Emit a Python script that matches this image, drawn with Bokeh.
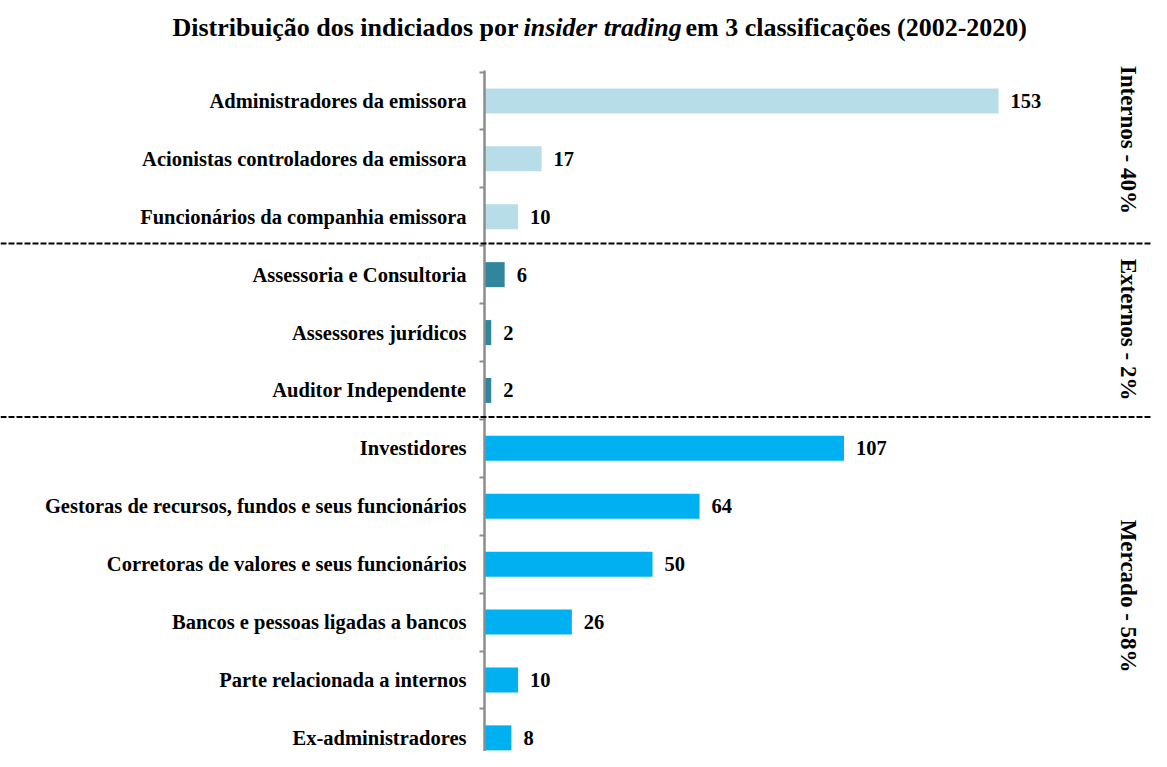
import math
from bokeh.plotting import figure
from bokeh.models import Range1d, LinearAxis, FixedTicker, Span, Label, ColumnDataSource
from bokeh.core.properties import value
from bokeh.embed import file_html
from bokeh.resources import INLINE

# ---------------- data ----------------
categories = [
    "Administradores da emissora",
    "Acionistas controladores da emissora",
    "Funcionários da companhia emissora",
    "Assessoria e Consultoria",
    "Assessores jurídicos",
    "Auditor Independente",
    "Investidores",
    "Gestoras de recursos, fundos e seus funcionários",
    "Corretoras de valores e seus funcionários",
    "Bancos e pessoas ligadas a bancos",
    "Parte relacionada a internos",
    "Ex-administradores",
]
counts = [153, 17, 10, 6, 2, 2, 107, 64, 50, 26, 10, 8]
groups = ["Internos"] * 3 + ["Externos"] * 3 + ["Mercado"] * 6
group_names = ["Internos", "Externos", "Mercado"]
group_labels = ["Internos - 40%", "Externos - 2%", "Mercado - 58%"]
group_colors = ["#B7DEE8", "#31859C", "#00B0F0"]
title_parts = ["Distribuição dos indiciados por", "insider trading", "em 3 classificações (2002-2020)"]

# ---------------- layout ----------------
W, H = 1151, 751
PX = 3.36          # pixels per count unit
ROW = 57.9         # pixels per category row
AXIS_X = 484       # pixel position of value 0
TOP = 71.5         # pixel position of first row's top edge
FONT = "Liberation Serif"


def px_to_x(px):
    return (px - AXIS_X) / PX


def px_to_y(py):
    return (py - TOP) / ROW


n = len(categories)
centers = [i + 0.5 for i in range(n)]
color_map = dict(zip(group_names, group_colors))
colors = [color_map[g] for g in groups]

p = figure(
    width=W, height=H,
    x_range=Range1d(px_to_x(0), px_to_x(W)),
    y_range=Range1d(px_to_y(H), px_to_y(0)),
    x_axis_location=None, y_axis_location=None,
    toolbar_location=None, output_backend="svg",
    min_border=0, outline_line_color=None,
    background_fill_color="white", border_fill_color="white",
)
p.xgrid.visible = False
p.ygrid.visible = False

src = ColumnDataSource(dict(y=centers, v=counts, c=colors, t=[str(v) for v in counts]))

p.hbar(y="y", left=0, right="v", height=25 / ROW, fill_color="c", line_color=None, source=src)

p.text(x="v", y="y", text="t", source=src, x_offset=12,
       text_font=value(FONT), text_font_style="bold", text_font_size="20.5px",
       text_baseline="middle", text_align="left", text_color="black")

# category axis placed at value 0
yaxis = LinearAxis(fixed_location=0)
yaxis.ticker = FixedTicker(ticks=centers, minor_ticks=[float(i) for i in range(n + 1)])
yaxis.major_label_overrides = {c: name for c, name in zip(centers, categories)}
yaxis.bounds = (-0.03, n)
yaxis.axis_line_color = "#8C8C8C"
yaxis.axis_line_width = 2.5
yaxis.major_tick_line_color = None
yaxis.major_tick_out = 0
yaxis.major_tick_in = 0
yaxis.minor_tick_line_color = "#8C8C8C"
yaxis.minor_tick_line_width = 2
yaxis.minor_tick_out = 5
yaxis.minor_tick_in = 0
yaxis.major_label_standoff = 13
yaxis.major_label_text_font = FONT
yaxis.major_label_text_font_style = "bold"
yaxis.major_label_text_font_size = "20.5px"
yaxis.major_label_text_color = "black"
p.add_layout(yaxis, "left")

# group separators and group labels
bounds_idx = [i for i in range(1, n) if groups[i] != groups[i - 1]]
for b in bounds_idx:
    p.add_layout(Span(location=b - 0.04, dimension="width", line_color="black",
                      line_width=2, line_dash="6 2"))

mids = []
for g in group_names:
    idx = [i for i, gg in enumerate(groups) if gg == g]
    mids.append((idx[0] + idx[-1] + 1) / 2)
label_shift = [-19, -3, 3]  # pixel nudges of rotated group labels
gsrc = ColumnDataSource(dict(x=[px_to_x(1128)] * 3, y=mids, t=group_labels, dy=label_shift))
p.text(x="x", y="y", text="t", source=gsrc, angle=-math.pi / 2, y_offset="dy",
       text_font=value(FONT), text_font_style="bold", text_font_size="23px",
       text_align="center", text_baseline="middle", text_color="black")

# title in three runs (italic middle)
ty = px_to_y(27)
p.add_layout(Label(x=px_to_x(518), y=ty, text=title_parts[0], text_align="right",
                   text_baseline="alphabetic", text_font=FONT, text_font_style="bold",
                   text_font_size="26px", text_color="black"))
p.add_layout(Label(x=px_to_x(523), y=ty, text=title_parts[1], text_align="left",
                   text_baseline="alphabetic", text_font=FONT, text_font_style="bold italic",
                   text_font_size="26px", text_color="black"))
p.add_layout(Label(x=px_to_x(685), y=ty, text=title_parts[2], text_align="left",
                   text_baseline="alphabetic", text_font=FONT, text_font_style="bold",
                   text_font_size="26px", text_color="black"))

open("out.html", "w").write(file_html(p, INLINE))
